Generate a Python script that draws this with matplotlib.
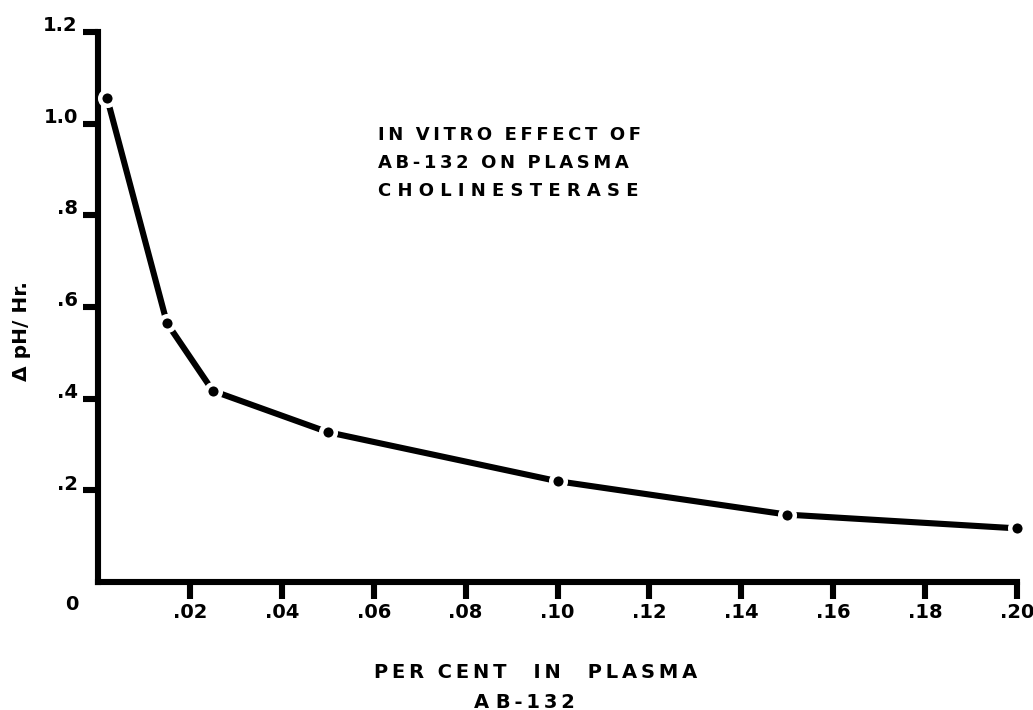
import matplotlib
matplotlib.use("Agg")
import matplotlib.pyplot as plt
import matplotlib.transforms as mtransforms

# values
percent = [0.002, 0.015, 0.025, 0.05, 0.10, 0.15, 0.20]
delta_ph = [1.055, 0.565, 0.417, 0.327, 0.22, 0.147, 0.117]

xticks = [0.02, 0.04, 0.06, 0.08, 0.10, 0.12, 0.14, 0.16, 0.18, 0.20]
xtick_labels = [".02", ".04", ".06", ".08", ".10", ".12", ".14", ".16", ".18", ".20"]
yticks = [0.2, 0.4, 0.6, 0.8, 1.0, 1.2]
ytick_labels = [".2", ".4", ".6", ".8", "1.0", "1.2"]

title_lines = ["IN VITRO EFFECT OF", "AB-132 ON PLASMA", "CHOLINESTERASE"]
title_gaps = ["\u2009", "\u2009", " "]

THIN = "\u2009"


def spaced(s, gap=THIN, word_gap="  "):
    # letter-spaced caps like the old lettering guide
    return word_gap.join(gap.join(w) for w in s.split(" "))


plt.rcParams['font.family'] = ['DejaVu Sans']
plt.rcParams['font.weight'] = 'bold'

fig = plt.figure(figsize=(10.33, 7.10), dpi=100)
ax = fig.add_axes([98 / 1033, 1 - 582 / 710, (1017 - 98) / 1033, (582 - 32) / 710])

ax.plot(percent, delta_ph, color='black', lw=4.4, solid_capstyle='butt',
        marker='o', ms=10.5, mfc='black', mec='white', mew=3.2, clip_on=False, zorder=3)

ax.set_xlim(0, 0.20)
ax.set_ylim(0, 1.2)

for side in ['top', 'right']:
    ax.spines[side].set_visible(False)
for side in ['left', 'bottom']:
    ax.spines[side].set_linewidth(4.4)
    ax.spines[side].set_capstyle('projecting')

ax.set_xticks(xticks)
ax.set_xticklabels(xtick_labels)
ax.set_yticks(yticks)
ax.set_yticklabels(ytick_labels)
ax.tick_params(axis='x', direction='out', length=12, width=4.4, pad=3, labelsize=14)
ax.tick_params(axis='y', direction='out', length=11, width=4.4, pad=3.5, labelsize=14)

# y labels sit a little above their ticks in the original
shift = mtransforms.ScaledTranslation(0, 6 / 72, fig.dpi_scale_trans)
for lab in ax.get_yticklabels():
    lab.set_transform(lab.get_transform() + shift)

ax.text(-0.0058, -0.05, "0", fontsize=14, fontweight='bold', ha='center', va='center',
        clip_on=False)

fig.text(22 / 1033, 1 - 331 / 710, "Δ pH/ Hr.", rotation=90,
         fontsize=14.5, fontweight='bold', ha='center', va='center')

for i, line in enumerate(title_lines):
    fig.text(378 / 1033, 1 - (135 + 28 * i) / 710, spaced(line, title_gaps[i]),
             fontsize=13, fontweight='bold', ha='left', va='center')

fig.text(536 / 1033, 1 - 673 / 710,
         spaced("PER CENT", word_gap="  ") + "    " + spaced("IN PLASMA", word_gap="    "),
         fontsize=14, fontweight='bold', ha='center', va='center')
fig.text(524 / 1033, 1 - 702 / 710, "A" + " " + spaced("B-132"), fontsize=14,
         fontweight='bold', ha='center', va='center')

fig.savefig("out.png", dpi=100, facecolor='white')
